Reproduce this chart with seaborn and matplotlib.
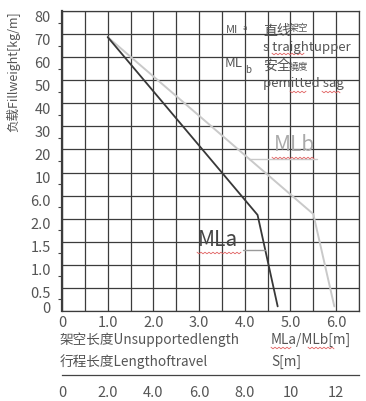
import numpy as np
import pandas as pd
import matplotlib
matplotlib.use("Agg")
import matplotlib.pyplot as plt
import matplotlib.transforms as mtransforms
from matplotlib.lines import Line2D
import seaborn as sns

sns.set_style("white")
plt.rcParams['font.family'] = ['Noto Sans CJK SC', 'DejaVu Sans']

# ---------------- data ----------------
y_values = [0, 0.5, 1.0, 1.5, 2.0, 6.0, 10, 20, 30, 40, 50, 60, 70, 80]
y_labels = ["0", "0.5", "1.0", "1.5", "2.0", "6.0", "10", "20", "30", "40", "50", "60", "70", "80"]
x_ticks = [0, 1, 2, 3, 4, 5, 6]
x_labels = ["0", "1.0", "2.0", "3.0", "4.0", "5.0", "6.0"]
s_ticks = [0, 2, 4, 6, 8, 10, 12]
s_labels = ["0", "2.0", "4.0", "6.0", "8.0", "10", "12"]

mla_length = [1.0, 4.28, 4.72]
mla_weight = [68.7, 2.65, 0.1]
mlb_length = [1.0, 5.5, 5.96]
mlb_weight = [68.7, 2.8, 0.1]

W, H = 366, 402
fig = plt.figure(figsize=(W / 100, H / 100), dpi=100)
fig.patch.set_facecolor("white")

def fx(px):
    return px / W

def fy(py):
    return 1 - py / H

ax = fig.add_axes([fx(62), fy(312), (359 - 62) / W, 300 / H])

idx = np.arange(len(y_values), dtype=float)

def fwd(v):
    return np.interp(v, y_values, idx)

def inv(i):
    return np.interp(i, idx, y_values)

ax.set_yscale('function', functions=(fwd, inv))

dfa = pd.DataFrame({"L": mla_length, "W": mla_weight})
dfb = pd.DataFrame({"L": mlb_length, "W": mlb_weight})
sns.lineplot(data=dfb, x="L", y="W", color="#c9c9c9", lw=1.4, sort=False, estimator=None, ax=ax)
sns.lineplot(data=dfa, x="L", y="W", color="#383838", lw=1.3, sort=False, estimator=None, ax=ax)

ax.set_xlim(0, 6.5)
ax.set_ylim(0, 80)
ax.set_xticks(x_ticks)
ax.set_xticklabels(x_labels)
ax.set_xticks(np.arange(0, 6.51, 0.5), minor=True)
ax.set_yticks(y_values)
ax.set_yticklabels(y_labels)
ax.set_yticks(inv(idx[:-1] + 0.5), minor=True)
ax.xaxis.grid(True, which='both', color='#3c3c3c', lw=0.9)
ax.yaxis.grid(True, which='major', color='#3c3c3c', lw=0.9)
ax.set_axisbelow(True)
ax.set_xlabel("")
ax.set_ylabel("")
ax.tick_params(axis='x', which='both', length=0, pad=3, labelsize=10.5, labelcolor='#555555')
ax.tick_params(axis='y', which='major', length=0, pad=8, labelsize=10.5, labelcolor='#555555')
ax.tick_params(axis='y', which='minor', length=3, width=0.8, color='#444444', left=True)
for sp in ax.spines.values():
    sp.set_color('#3c3c3c')
    sp.set_linewidth(0.9)
ax.spines['left'].set_linewidth(1.6)

# shift y labels slightly like the reference
for i, lab in enumerate(ax.get_yticklabels()):
    dy = 4 if i == 0 else -4
    off = mtransforms.ScaledTranslation(0, dy / 100, fig.dpi_scale_trans)
    lab.set_transform(lab.get_transform() + off)

# leader lines
lead_b_w = 16.0
lead_b_x = np.interp(fwd(lead_b_w), fwd(np.array(mlb_weight[:2]))[::-1], mlb_length[:2][::-1])
ax.plot([lead_b_x, 5.57], [lead_b_w, lead_b_w], color="#c9c9c9", lw=1.0)
lead_a_w = 1.32
lead_a_x = np.interp(fwd(lead_a_w), fwd(np.array(mla_weight[1:]))[::-1], mla_length[1:][::-1])
ax.plot([3.96, lead_a_x], [lead_a_w, lead_a_w], color="#9a9a9a", lw=1.0)

gray = '#555555'
fig.text(fx(218), fy(240), "MLa", fontsize=15, color='#444444', ha='center', va='center')
fig.text(fx(294), fy(145), "MLb", fontsize=15, color='#aaaaaa', ha='center', va='center')

# legend-like text block
fig.text(fx(226), fy(30), "MI", fontsize=8, color=gray, ha='left', va='center')
fig.text(fx(243), fy(28), "a", fontsize=5.5, color=gray, ha='left', va='center')
fig.text(fx(263), fy(31), "直线", fontsize=10, color=gray, ha='left', va='center')
fig.text(fx(289), fy(28), "架空", fontsize=7, color=gray, ha='left', va='center')
fig.text(fx(263), fy(47), "s traightupper", fontsize=9.5, color=gray, ha='left', va='center')
fig.text(fx(225), fy(64), "ML", fontsize=9.5, color=gray, ha='left', va='center')
fig.text(fx(245), fy(70), "b", fontsize=7, color=gray, ha='left', va='center')
fig.text(fx(263), fy(66), "安全", fontsize=10, color=gray, ha='left', va='center')
fig.text(fx(289), fy(67), "撓度", fontsize=7, color=gray, ha='left', va='center')
fig.text(fx(263), fy(84), "pemitted sag", fontsize=9.5, color=gray, ha='left', va='center')

# y axis title
fig.text(fx(13), fy(72), "负载Fillweight[kg/m]", fontsize=9, color=gray, rotation=90, ha='center', va='center')

# bottom texts
fig.text(fx(60), fy(340), "架空长度Unsupportedlength", fontsize=9.8, color=gray, ha='left', va='center')
fig.text(fx(271), fy(340), "MLa/MLb[m]", fontsize=9.8, color=gray, ha='left', va='center')
fig.text(fx(60), fy(362), "行程长度Lengthoftravel", fontsize=9.8, color=gray, ha='left', va='center')
fig.text(fx(271), fy(362), "S[m]", fontsize=9.8, color=gray, ha='left', va='center')

# red spell-check squiggles (decoration)
def squiggle(x0, x1, y):
    xs = np.arange(x0, x1 + 0.1, 2.0)
    ys = y + np.where(np.arange(len(xs)) % 2 == 0, -0.8, 0.8)
    fig.add_artist(Line2D(fx(xs), fy(ys), color='#e06060', lw=0.6, transform=fig.transFigure))

squiggle(272, 305, 55)
squiggle(290, 306, 93)
squiggle(322, 340, 93)
squiggle(197, 242, 254)
squiggle(272, 314, 159)
squiggle(271, 292, 349)
squiggle(308, 335, 349)

# secondary S axis
ax2 = fig.add_axes([fx(62), fy(376), (359 - 62) / W, 0.001])
ax2.set_xlim(0, 13)
ax2.set_ylim(0, 1)
ax2.set_yticks([])
ax2.set_xticks(s_ticks)
ax2.set_xticklabels(s_labels)
ax2.set_xticks(np.arange(0, 13.1, 1), minor=True)
for name, sp in ax2.spines.items():
    sp.set_visible(name == 'bottom')
ax2.spines['bottom'].set_color('#444444')
ax2.spines['bottom'].set_linewidth(0.9)
ax2.patch.set_alpha(0)
ax2.tick_params(axis='x', which='both', direction='inout', length=7, width=0.9, color='#444444',
                labelsize=10.5, labelcolor=gray, pad=4)

fig.savefig("out.png", dpi=100, facecolor='white')
